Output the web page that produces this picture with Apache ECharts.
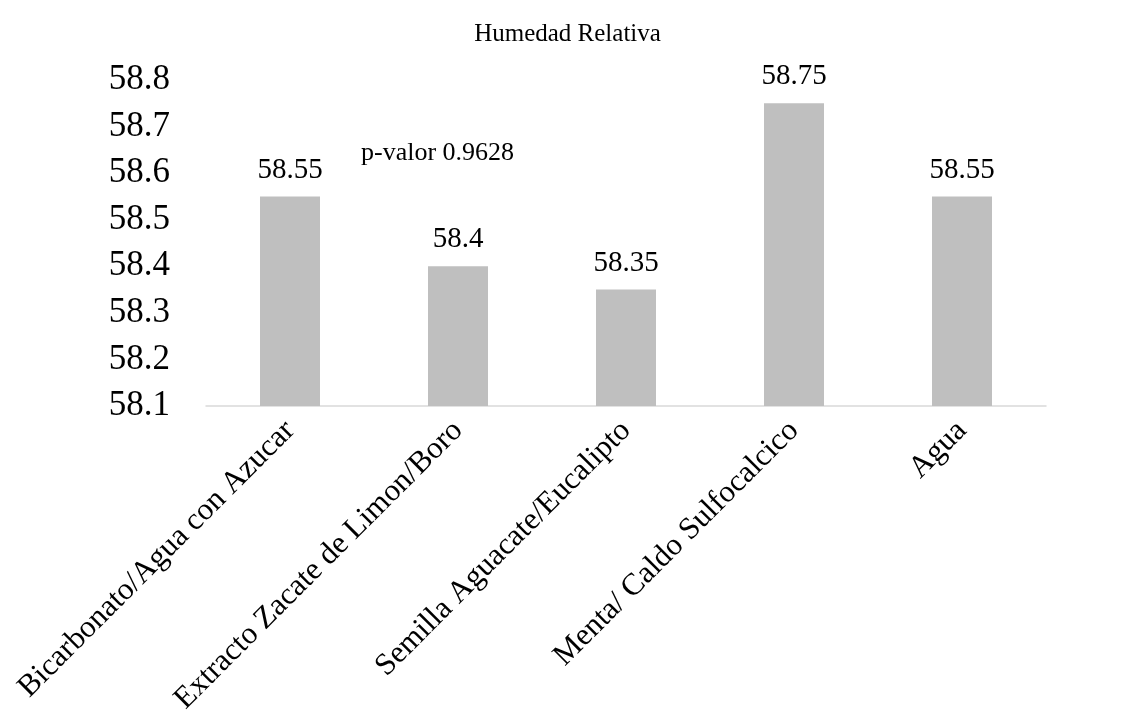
<!DOCTYPE html>
<html>
<head>
<meta charset="utf-8">
<script src="https://cdn.jsdelivr.net/npm/echarts@6/dist/echarts.min.js"></script>
<style>
html,body{margin:0;padding:0;background:#fff;}
#chart{width:1135px;height:725px;}
</style>
</head>
<body>
<div id="chart"></div>
<script>
const categories = ["Bicarbonato/Agua con Azucar", "Extracto Zacate de Limon/Boro", "Semilla Aguacate/Eucalipto", "Menta/ Caldo Sulfocalcico", "Agua"];
const values = [58.55, 58.4, 58.35, 58.75, 58.55];
const titleText = "Humedad Relativa";
const noteText = "p-valor 0.9628";

const FONT = "'Liberation Serif', 'Times New Roman', serif";
const chart = echarts.init(document.getElementById('chart'));
chart.setOption({
  backgroundColor: '#ffffff',
  animation: false,
  title: {
    text: titleText,
    left: 'center',
    top: 17,
    textStyle: { fontFamily: FONT, fontWeight: 'normal', fontSize: 25, color: '#000' }
  },
  graphic: [{
    type: 'text',
    left: 361,
    top: 140,
    style: { text: noteText, fontFamily: FONT, fontSize: 26, fill: '#000' }
  }],
  grid: { left: 206, right: 89, top: 80, bottom: 319, containLabel: false },
  xAxis: {
    type: 'category',
    data: categories,
    axisLine: { show: true, lineStyle: { color: '#d9d9d9', width: 1.5 } },
    axisTick: { show: false },
    axisLabel: { rotate: 45, interval: 0, margin: 20, fontFamily: FONT, fontSize: 31, color: '#000' }
  },
  yAxis: {
    type: 'value',
    min: 58.1,
    max: 58.8,
    interval: 0.1,
    splitLine: { show: false },
    axisLine: { show: false },
    axisTick: { show: false },
    axisLabel: { fontFamily: FONT, fontSize: 35, color: '#000', margin: 36,
      formatter: v => v.toFixed(1) }
  },
  series: [{
    type: 'bar',
    data: values,
    barWidth: 60,
    itemStyle: { color: '#bfbfbf' },
    label: { show: true, position: 'top', distance: 12, fontFamily: FONT, fontSize: 29, color: '#000' }
  }]
});
</script>
</body>
</html>
